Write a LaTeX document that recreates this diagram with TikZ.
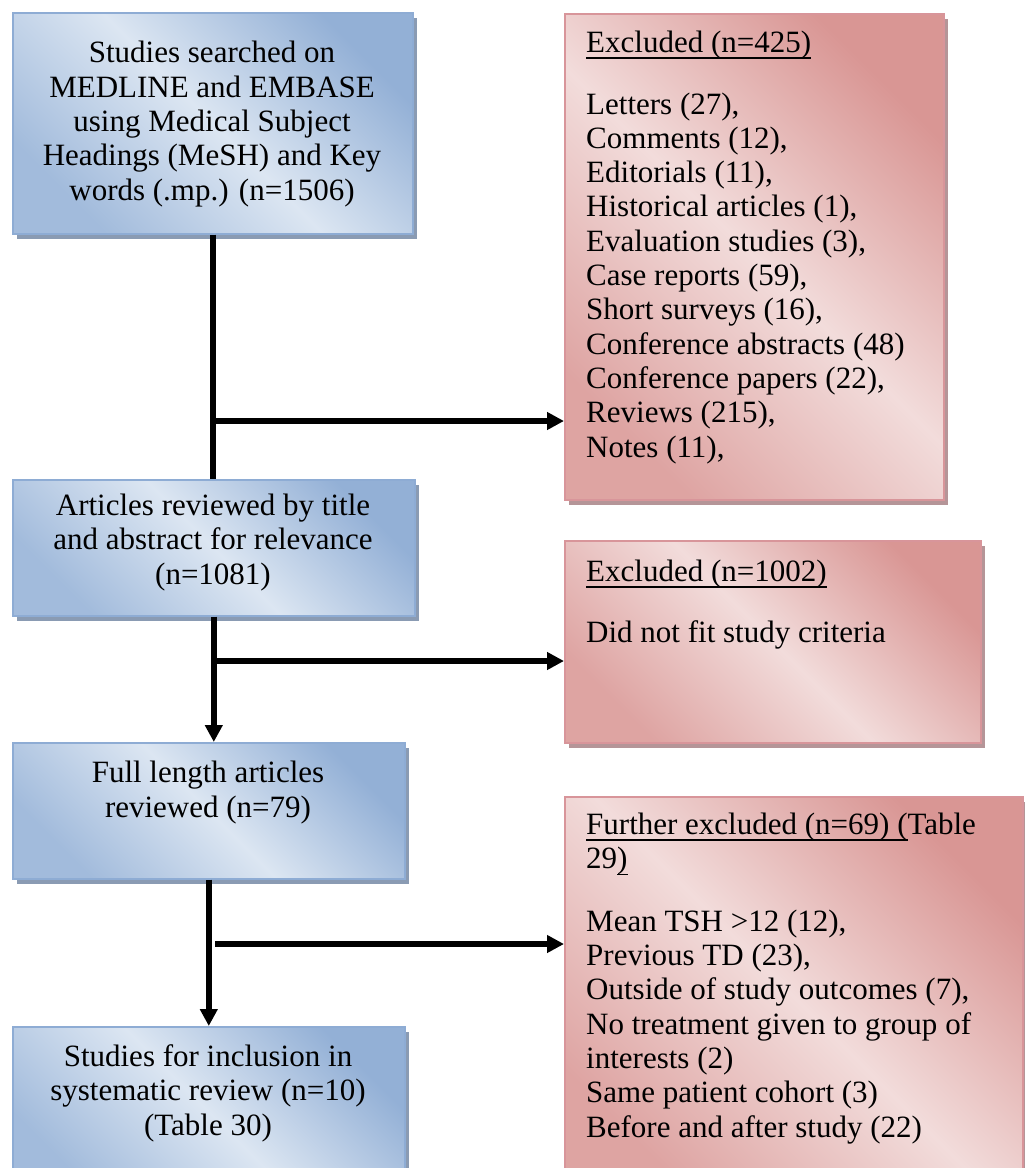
\documentclass[tikz,border=0pt]{standalone}
\usepackage{fontspec}
\setmainfont{Liberation Serif}
\usetikzlibrary{arrows.meta,shadows}
\definecolor{bDark}{HTML}{93B0D6}
\definecolor{bLight}{HTML}{DCE6F2}
\definecolor{bEdge}{HTML}{8EACD4}
\definecolor{bShadow}{HTML}{8A9BB3}
\definecolor{rDark}{HTML}{D99694}
\definecolor{rLight}{HTML}{F2DCDB}
\definecolor{rEdge}{HTML}{D8959A}
\definecolor{rShadow}{HTML}{B59598}
\newsavebox{\hulbox}
\newcommand{\hul}[1]{\leavevmode\sbox{\hulbox}{#1}\rlap{\rule[-6.5bp]{\wd\hulbox}{1.8bp}}\usebox{\hulbox}}
\begin{document}
\begin{tikzpicture}[x=1bp,y=-1bp,
  boxbase/.style={line width=1.6bp, inner sep=0pt, anchor=north west},
  bluebox/.style={boxbase, draw=bEdge, top color=bDark, bottom color=bDark!80!bLight, middle color=bLight, shading angle=-45,
    drop shadow={shadow xshift=4bp, shadow yshift=-5bp, fill=bShadow, opacity=1}},
  redbox/.style={boxbase, draw=rEdge, top color=rDark, bottom color=rDark!80!rLight, middle color=rLight, shading angle=-45,
    drop shadow={shadow xshift=4bp, shadow yshift=-5bp, fill=rShadow, opacity=1}},
  txt/.style={inner sep=0pt, font=\fontsize{31bp}{34.3bp}\selectfont},
  ctxt/.style={txt, align=center, anchor=base},
  ltxt/.style={txt, align=left, anchor=base west},
  conn/.style={line width=6bp, black},
  arr/.style={conn, -{Triangle[length=17bp,width=17bp]}}]
\useasboundingbox (0,0) rectangle (1025,1168);
\clip (0,0) rectangle (1025,1168);
% boxes
\node[bluebox, minimum width=400bp, minimum height=221bp] (b1) at (12,12) {};
\node[bluebox, minimum width=402bp, minimum height=136bp] (b2) at (12,479) {};
\node[bluebox, minimum width=392bp, minimum height=136bp] (b3) at (12,742) {};
\node[bluebox, minimum width=392bp, minimum height=170bp] (b4) at (12,1026) {};
\node[redbox, minimum width=379bp, minimum height=486bp] (r1) at (564,13) {};
\node[redbox, minimum width=416bp, minimum height=202bp] (r2) at (564,540) {};
\node[redbox, minimum width=458bp, minimum height=400bp] (r3) at (564,796) {};
% texts (anchored at the baseline of their last line)
\node[ctxt] (t1) at (212,200) {Studies searched on\\MEDLINE and EMBASE\\using Medical Subject\\Headings (MeSH) and Key\\words (.mp.) (n=1506)};
\node[ctxt] (t2) at (213,584) {Articles reviewed by title\\and abstract for relevance\\(n=1081)};
\node[ctxt] (t3) at (208,817) {Full length articles\\reviewed (n=79)};
\node[ctxt] (t4) at (208,1135) {Studies for inclusion in\\systematic review (n=10)\\(Table 30)};
\node[ltxt] (s1) at (586,457) {\hul{Excluded (n=425)}\\[27bp]Letters (27),\\Comments (12),\\Editorials (11),\\Historical articles (1),\\Evaluation studies (3),\\Case reports (59),\\Short surveys (16),\\Conference abstracts (48)\\Conference papers (22),\\Reviews (215),\\Notes (11),};
\node[ltxt] (s2) at (586,642) {\hul{Excluded (n=1002)}\\[26bp]Did not fit study criteria};
\node[ltxt] (s3) at (586,1137) {\hul{Further excluded (n=69) (}Table\\29\hul{)}\\[28bp]Mean TSH >12 (12),\\Previous TD (23),\\Outside of study outcomes (7),\\No treatment given to group of\\interests (2)\\Same patient cohort (3)\\Before and after study (22)};
% connectors
\draw[conn] (b1.south) -- (b1.south |- b2.north);
\draw[arr] (b2.south) -- (b2.south |- b3.north);
\draw[arr] (b3.south) -- (b3.south |- b4.north);
\coordinate (j1) at (215,421);
\coordinate (j2) at (215,661);
\coordinate (j3) at (215,944);
\draw[arr] (j1) -- (j1 -| r1.west);
\draw[arr] (j2) -- (j2 -| r2.west);
\draw[arr] (j3) -- (j3 -| r3.west);
\end{tikzpicture}
\end{document}
